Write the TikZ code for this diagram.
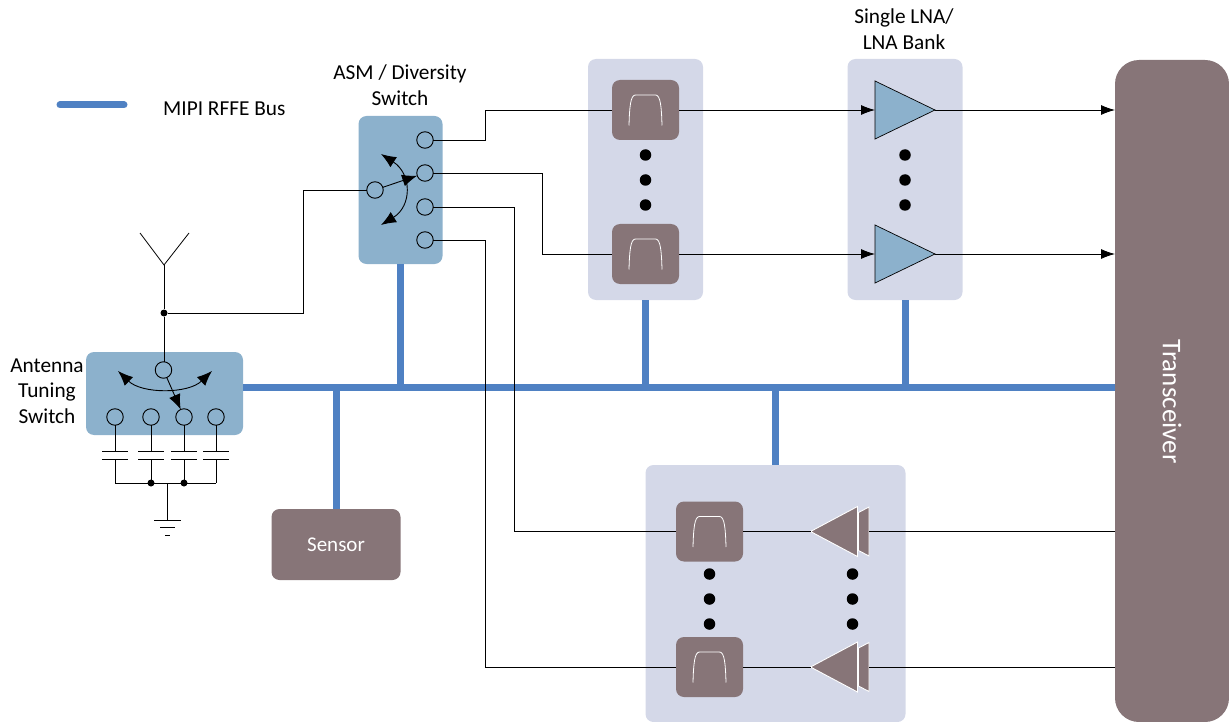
\documentclass[tikz,border=0pt]{standalone}
\usepackage{fontspec}
\setmainfont{Carlito}
\usetikzlibrary{positioning, shapes, arrows.meta, calc}
\definecolor{panelblue}{HTML}{D4D8E8}
\definecolor{swblue}{HTML}{8CB1CC}
\definecolor{brownbox}{HTML}{877578}
\definecolor{busblue}{HTML}{4F81C3}
\tikzset{
  panel/.style={fill=panelblue, rounded corners=8pt, inner sep=0pt, outer sep=0pt},
  swbox/.style={fill=swblue, rounded corners=8pt, inner sep=0pt, outer sep=0pt},
  brown/.style={fill=brownbox, rounded corners=8pt, inner sep=0pt, outer sep=0pt, text=white},
  filterbox/.style={brown, minimum width=67pt, minimum height=60pt},
  port/.style={circle, draw, line width=0.9pt, minimum size=16.5pt, inner sep=0pt, outer sep=0pt},
  dotmark/.style={circle, fill=black, minimum size=11.5pt, inner sep=0pt},
  joint/.style={circle, fill=black, minimum size=7pt, inner sep=0pt},
  amp/.style={isosceles triangle, isosceles triangle stretches, minimum width=58pt, minimum height=60pt,
    inner sep=0pt, outer sep=0pt, draw, line width=0.7pt, fill=swblue, anchor=lower side},
  paamp/.style={isosceles triangle, isosceles triangle stretches, shape border rotate=180, minimum width=50pt,
    minimum height=47pt, inner sep=0pt, outer sep=0pt, draw=white, line width=0.9pt, fill=brownbox, anchor=lower side},
  sig/.style={line width=0.8pt},
  sigarrow/.style={sig, -{Latex[length=14pt, width=10pt]}},
  swarrow/.style={line width=0.9pt, -{Latex[length=15pt, width=12pt]}},
  swdouble/.style={line width=0.9pt, {Latex[length=15pt, width=12pt]}-{Latex[length=15pt, width=12pt]}},
  bus/.style={busblue, line width=7pt},
  lab/.style={font=\fontsize{21.3}{25.5}\selectfont, align=center, inner sep=0pt},
}
\begin{document}
\begin{tikzpicture}[x=1pt, y=-1pt]
\useasboundingbox (0,0) rectangle (1229,722);
% Panels
\node[panel, minimum width=115pt, minimum height=241pt] (fltpanel) at (645.5,179.5) {};
\node[panel, minimum width=115pt, minimum height=241pt] (lnapanel) at (905,179.5) {};
\node[panel, minimum width=260pt, minimum height=257pt] (papanel) at (775.5,593.5) {};
\node[swbox, minimum width=84pt, minimum height=148pt] (asm) at (400.5,190) {};
\node[swbox, minimum width=157pt, minimum height=83pt] (tuner) at (164.5,393.5) {};
\node[brown, minimum width=129pt, minimum height=71pt, font=\fontsize{21}{25}\selectfont] (sensor) at (336,544.5) {Sensor};
\node[brown, rounded corners=24pt, minimum width=114pt, minimum height=662pt] (trx) at (1172,391) {};
\node[text=white, rotate=-90, font=\fontsize{27}{32}\selectfont, inner sep=0pt] (trxlabel) at (1172,401.5) {Transceiver};

% Labels
\node[lab] (tunerlabel) at (47,391) {Antenna\\Tuning\\Switch};
\node[lab] (asmlabel) at (400,85) {ASM / Diversity\\Switch};
\node[lab] (lnalabel) at (904,29) {Single LNA/\\LNA Bank};
\node[lab, anchor=west] (buslabel) at (163,109) {MIPI RFFE Bus};

% Bus
\coordinate (legl) at (60,105);
\coordinate (legr) at (124,105);
\draw[bus, line cap=round] (legl) -- (legr);
\coordinate (busl) at (243,387);
\coordinate (busr) at (1115,387);
\draw[bus] (busl) -- (busr);
\foreach \b in {asm,fltpanel,lnapanel}
\draw[bus] (\b.south) -- (\b.south |- busl);
\foreach \b in {sensor,papanel}
\draw[bus] (\b.north) -- (\b.north |- busl);

% Filters and amplifiers
\node[filterbox] (flt1) at (645.5,110) {};
\node[filterbox] (flt2) at (645.5,254) {};
\node[filterbox] (flt3) at (709.5,531.5) {};
\node[filterbox] (flt4) at (709.5,667) {};
\node[amp] (lna1) at (875,110) {};
\node[amp] (lna2) at (875,254) {};
\node[paamp] (pa1) at (857.5,531.5) {};
\node[paamp] (pa2) at (857.5,667) {};
\foreach \f in {flt1,flt2,flt3,flt4}
\draw[white, line width=0.8pt] ($(\f)+(-16.5,15.5)$) .. controls ($(\f)+(-16,-3)$) and ($(\f)+(-15,-15)$) .. ($(\f)+(-10,-15)$) -- ($(\f)+(10,-15)$) .. controls ($(\f)+(15,-15)$) and ($(\f)+(16,-3)$) .. ($(\f)+(16.5,15.5)$);
\foreach \y in {531.5,667}
\draw[white, line width=0.9pt, fill=brownbox] (858.5,\y-19) -- (869,\y-24.5) -- (869,\y+24.5) -- (858.5,\y+19) -- cycle;
\coordinate (pa1in) at (869,531.5);
\coordinate (pa2in) at (869,667);

% Dots
\foreach \y [count=\d] in {155,180,205}{
\node[dotmark] (fltdot\d) at (645.5,\y) {};
\node[dotmark] (lnadot\d) at (905,\y) {};
}
\foreach \y [count=\d] in {574,599,624}{
\node[dotmark] (rxdot\d) at (709.5,\y) {};
\node[dotmark] (padot\d) at (852.5,\y) {};
}

% Switch ports
\node[port] (asmin) at (375,190) {};
\foreach \y [count=\i] in {140,173,207,240}
\node[port] (asmout\i) at (425,\y) {};
\node[port] (tunin) at (163.5,370) {};
\foreach \x [count=\i] in {115,151,184,216}
\node[port] (tunout\i) at (\x,417) {};

% Antenna
\coordinate (antfoot) at (164,265);
\coordinate (antl) at (140,233);
\coordinate (antr) at (189,233);
\node[joint] (antjoint) at (164,313) {};
\draw[sig] (antl) -- (antfoot) -- (antr);
\draw[sig] (antfoot) -- (antjoint) -- (antjoint |- tunin.north);
\draw[sig] (antjoint) -| (303,190) -- (asmin);

% Arrows
\draw[swarrow] (asmin) -- (asmout2);
\draw[swarrow] (tunin) -- (tunout3);
\coordinate (asmtop) at (381,154);
\coordinate (asmbot) at (381,225);
\draw[swdouble] (asmtop) .. controls (412,174) and (412,206) .. (asmbot);
\coordinate (tunl) at (118,371);
\coordinate (tunr) at (212,371);
\draw[swdouble] (tunl) .. controls (142,394) and (188,394) .. (tunr);

\draw[sig] (asmout1) -- (485,140) |- (flt1);
\draw[sig] (asmout2) -- (542,173) |- (flt2);
\draw[sig] (asmout3) -- (514,207) |- (flt3);
\draw[sig] (asmout4) -- (485,240) |- (flt4);
\foreach \i in {1,2}{
\draw[sigarrow] (flt\i) -- (lna\i.lower side);
\draw[sigarrow] (lna\i.apex) -- (lna\i.apex -| trx.west);
}
\draw[sig] (pa1in -| trx.west) -- (pa1in);
\draw[sig] (pa2in -| trx.west) -- (pa2in);
\draw[sig] (pa1.apex) -- (flt3);
\draw[sig] (pa2.apex) -- (flt4);

% Capacitor bank
\foreach \x [count=\i] in {115,151,184,216}{
\coordinate (captop\i) at (\x,451);
\coordinate (capbot\i) at (\x,459);
\coordinate (capend\i) at (\x,483);
\draw[sig] (tunout\i) -- (captop\i);
\draw[sig] ($(captop\i)+(-13,0)$) -- ($(captop\i)+(13,0)$);
\draw[sig] ($(capbot\i)+(-13,0)$) -- ($(capbot\i)+(13,0)$);
\draw[sig] (capbot\i) -- (capend\i);
}
\draw[sig] (capend1) -- (capend4);
\node[joint] (capjoint2) at (capend2) {};
\node[joint] (capjoint3) at (capend3) {};
\coordinate (gndtap) at (167.5,483);
\coordinate (gnd) at (167.5,520);
\draw[sig] (gndtap) -- (gnd);
\draw[sig] ($(gnd)+(-13.5,0)$) -- ($(gnd)+(13.5,0)$);
\draw[sig] ($(gnd)+(-7.5,7.5)$) -- ($(gnd)+(7.5,7.5)$);
\draw[sig] ($(gnd)+(-2.5,15)$) -- ($(gnd)+(2.5,15)$);
\end{tikzpicture}
\end{document}
